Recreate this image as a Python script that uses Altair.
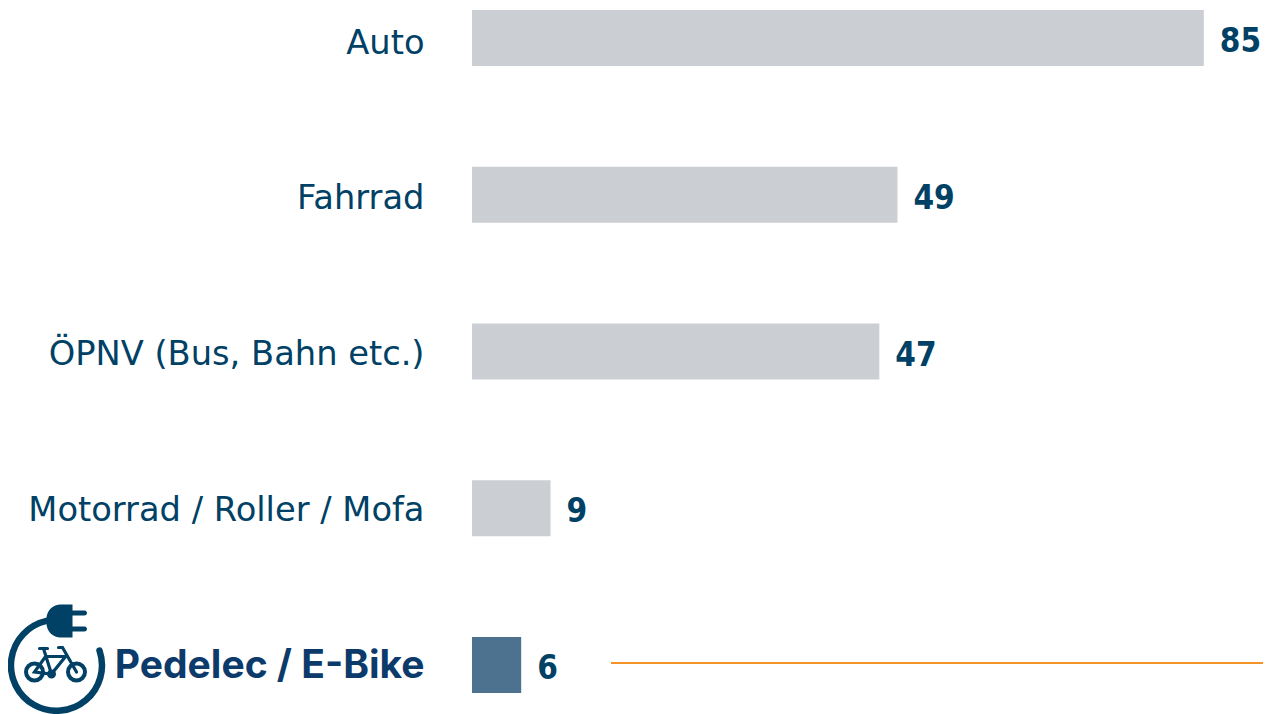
import altair as alt
import pandas as pd

categories = ["Auto", "Fahrrad", "ÖPNV (Bus, Bahn etc.)", "Motorrad / Roller / Mofa", "Pedelec / E-Bike"]
values = [84.8, 49.3, 47.2, 9.1, 5.7]
highlight = "Pedelec / E-Bike"

df = pd.DataFrame({"cat": categories, "val": values})
TEXT = "#004165"
GREY = "#cbced2"
HILITE = "#4c7290"
ORANGE = "#f39325"
FONT = "DejaVu Sans"

offset_expr = ("datum.value == 'Auto' ? 6 : datum.value == 'Fahrrad' ? 4 : "
               f"datum.value == '{highlight}' ? 1 : 3")

y_enc = alt.Y("cat:N", sort=categories, title=None,
              scale=alt.Scale(paddingInner=0.6427, paddingOuter=0.0128),
              axis=alt.Axis(domain=False, ticks=False, labelPadding=48, labelLimit=450,
                            labelOffset=alt.expr(offset_expr),
                            labelFontSize=alt.expr(f"datum.value == '{highlight}' ? 39 : 33.7"),
                            labelFont=alt.expr(f"datum.value == '{highlight}' ? 'Inter' : '{FONT}'"),
                            labelFontWeight=alt.expr(f"datum.value == '{highlight}' ? 'bold' : 'normal'"),
                            labelColor=alt.expr(f"datum.value == '{highlight}' ? '#0b3a6b' : '{TEXT}'")))
x_enc = alt.X("val:Q", title=None, axis=None, scale=alt.Scale(domain=[0, 91.66], nice=False))

base = alt.Chart(df)
bars = base.mark_bar(cornerRadius=0).encode(
    x=x_enc, y=y_enc,
    color=alt.condition(alt.datum.cat == highlight, alt.value(HILITE), alt.value(GREY)),
)
labels = base.mark_text(align="left", baseline="middle", dx=16, dy=4, fontSize=33,
                        font="DejaVu Sans Condensed", fontWeight="bold", color=TEXT).encode(
    x=x_enc, y=alt.Y("cat:N", sort=categories), text=alt.Text("val:Q", format=".0f"))

rule = alt.Chart(df.head(1)).mark_rule(color=ORANGE, strokeWidth=2).encode(
    x=alt.value(139), x2=alt.value(799), y=alt.value(655))

RING = "M -9 -44.6 A 45.5 45.5 0 1 0 44 -15"
WHEELS = ("M -12.5 6.5 A 8.5 8.5 0 1 0 -29.5 6.5 A 8.5 8.5 0 1 0 -12.5 6.5 "
          "M 29.5 6.5 A 8.5 8.5 0 1 0 12.5 6.5 A 8.5 8.5 0 1 0 29.5 6.5")
FRAME = ("M -16 -17 L -8 -17 M -12 -17 L -4 8.5 L -21 6.5 L -10 -9 L 10 -9 L -4 8.5 "
         "M 3 -18 L 7 -18 L 21 6.5")
PLUG = ("M 17 -61 L 17 -55 L 29 -55 A 2.5 2.5 0 0 1 29 -50 L 17 -50 L 17 -39 L 29 -39 "
        "A 2.5 2.5 0 0 1 29 -34 L 17 -34 L 17 -28 L 6 -28 A 14 14 0 0 1 -9 -42 L -9 -47 "
        "A 14 14 0 0 1 6 -61 Z")
MOTOR = "M 0.5 8.5 A 4.5 4.5 0 1 0 -8.5 8.5 A 4.5 4.5 0 1 0 0.5 8.5 Z"


def icon(path, filled, sw=0.0):
    kw = dict(shape=path, size=4, filled=filled, color=TEXT, opacity=1)
    if not filled:
        kw.update(strokeWidth=sw, strokeCap="round")
    return alt.Chart(df.head(1)).mark_point(**kw).encode(x=alt.value(-416.5), y=alt.value(657.5))


chart = (
    bars + labels + rule + icon(RING, False, 6.5) + icon(WHEELS, False, 4)
    + icon(FRAME, False, 3.2) + icon(PLUG, True) + icon(MOTOR, True)
).properties(
    width=791, height=687,
    padding={"left": 464, "top": 0, "right": 0, "bottom": 19},
    autosize=alt.AutoSizeParams(type="none"),
).configure_view(stroke=None)

chart.save("out.html", embed_options={"renderer": "svg", "actions": False})
